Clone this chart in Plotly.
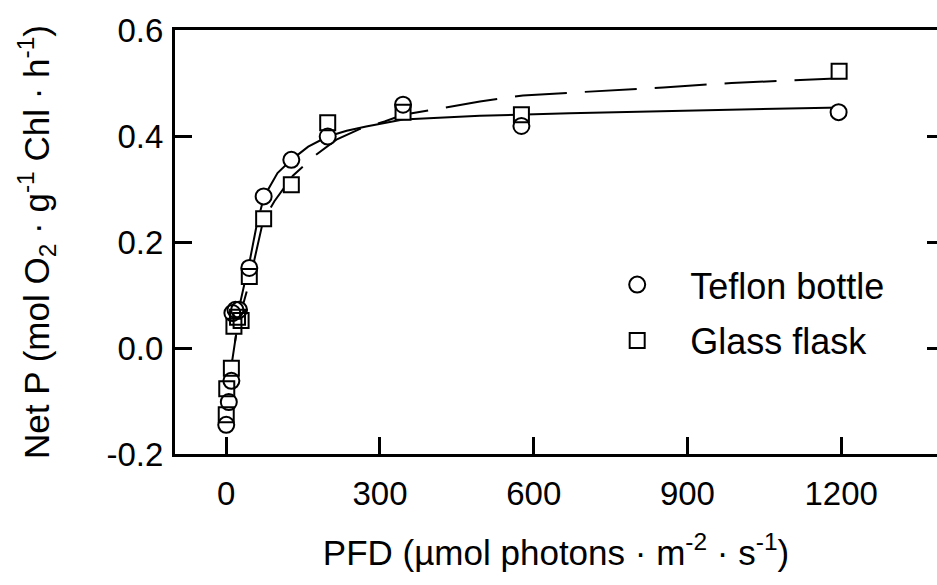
import plotly.graph_objects as go

# Net photosynthesis vs photon flux density for two incubation vessels
FONT = "Liberation Sans, Arial, sans-serif"

# Teflon bottle measurements
teflon_pfd = [0, 5, 10, 12, 18, 25, 45, 73, 127, 198, 345, 576, 1195]
teflon_netp = [-0.145, -0.102, -0.062, 0.066, 0.072, 0.072, 0.151, 0.286, 0.355, 0.399, 0.459, 0.419, 0.445]

# Glass flask measurements
glass_pfd = [0, 1, 10, 15, 22, 29, 45, 73, 127, 198, 345, 576, 1196]
glass_netp = [-0.126, -0.077, -0.038, 0.041, 0.058, 0.052, 0.135, 0.244, 0.308, 0.425, 0.445, 0.440, 0.522]

# Fitted P-I curves
teflon_fit_pfd = [0, 6, 20, 26, 36, 45, 60, 74, 100, 127, 160, 198, 235, 273, 345, 420, 495, 670, 900, 1200]
teflon_fit_netp = [-0.13, -0.06, 0.03, 0.08, 0.123, 0.16, 0.235, 0.286, 0.33, 0.355, 0.38, 0.399, 0.41, 0.418, 0.431, 0.435, 0.438, 0.443, 0.448, 0.454]

glass_fit_pfd = [0, 6, 20, 30, 45, 60, 72, 94, 130, 176, 215, 260, 309, 345, 446, 495, 579, 716, 853, 986, 1123, 1200]
glass_fit_netp = [-0.12, -0.06, 0.03, 0.072, 0.124, 0.19, 0.24, 0.277, 0.325, 0.365, 0.393, 0.413, 0.4275, 0.44, 0.457, 0.465, 0.4766, 0.484, 0.4917, 0.50, 0.506, 0.509]

x_ticks = [0, 300, 600, 900, 1200]
y_ticks = [-0.2, 0.0, 0.2, 0.4, 0.6]
y_tick_text = ["-0.2", "0.0", "0.2", "0.4", "0.6"]

fig = go.Figure()

fig.add_trace(go.Scatter(x=teflon_fit_pfd, y=teflon_fit_netp, mode="lines",
                         line=dict(color="black", width=2), showlegend=False, hoverinfo="skip"))
fig.add_trace(go.Scatter(x=glass_fit_pfd, y=glass_fit_netp, mode="lines",
                         line=dict(color="black", width=2, dash="52px,18px"),
                         showlegend=False, hoverinfo="skip"))

# white backing so the fit lines stop at the symbol outlines
for xs, ys, sym in [(teflon_pfd, teflon_netp, "circle"), (glass_pfd, glass_netp, "square")]:
    fig.add_trace(go.Scatter(x=xs, y=ys, mode="markers", showlegend=False, hoverinfo="skip",
                             marker=dict(symbol=sym, size=16, color="white", line=dict(width=0))))

fig.add_trace(go.Scatter(x=teflon_pfd, y=teflon_netp, mode="markers", name="Teflon bottle",
                         legendgroup="a",
                         marker=dict(symbol="circle-open", size=16, color="black", line=dict(width=2))))
fig.add_trace(go.Scatter(x=glass_pfd, y=glass_netp, mode="markers", name="Glass flask",
                         legendgroup="b",
                         marker=dict(symbol="square-open", size=15, color="black", line=dict(width=2))))

# right-hand tick marks
fig.add_trace(go.Scatter(x=[], y=[], yaxis="y2", showlegend=False))

fig.update_layout(
    width=937, height=585,
    margin=dict(l=175, r=0, t=30, b=131),
    paper_bgcolor="white", plot_bgcolor="white",
    font=dict(family=FONT, color="black", size=33),
    xaxis=dict(
        range=[-100, 1387], tickvals=x_ticks, ticks="inside", ticklen=17, tickwidth=2.5,
        tickcolor="black", showline=True, linewidth=3, linecolor="black", mirror=True,
        showgrid=False, zeroline=False, tickfont=dict(size=33), ticklabelstandoff=8,
        title=dict(text="PFD (µmol photons · m<sup>-2</sup> · s<sup>-1</sup>)",
                   font=dict(size=35), standoff=30),
    ),
    yaxis=dict(
        range=[-0.2, 0.6], tickvals=y_ticks, ticktext=y_tick_text, ticks="inside",
        ticklen=17, tickwidth=2.5, tickcolor="black", showline=True, linewidth=3,
        linecolor="black", showgrid=False, zeroline=False, tickfont=dict(size=33),
        ticklabelstandoff=2,
        title=dict(text="Net P (mol O<sub>2</sub> · g<sup>-1</sup> Chl · h<sup>-1</sup>)",
                   font=dict(size=35), standoff=47),
    ),
    yaxis2=dict(
        range=[-0.2, 0.6], tickvals=y_ticks, overlaying="y", side="right", ticks="inside",
        ticklen=10, tickwidth=2.5, tickcolor="black", showline=False, showgrid=False,
        zeroline=False, showticklabels=False,
    ),
    legend=dict(x=0.537, y=0.47, xanchor="left", yanchor="top", bgcolor="rgba(0,0,0,0)",
                font=dict(size=36), traceorder="grouped", tracegroupgap=6, itemwidth=96),
)

fig.write_html("out.html")
